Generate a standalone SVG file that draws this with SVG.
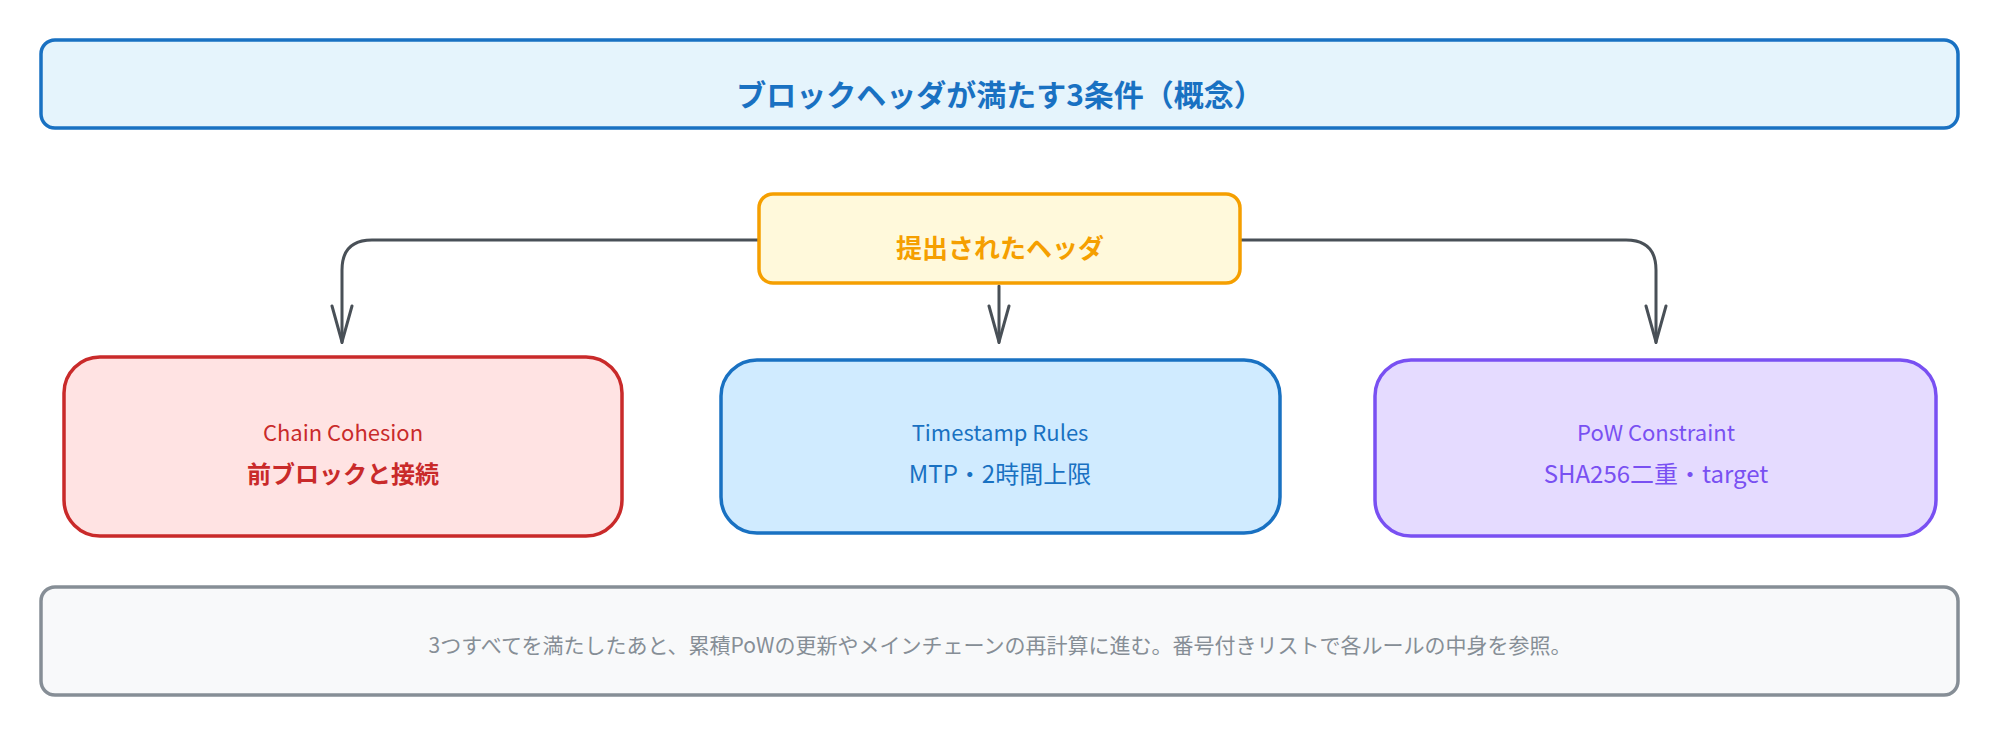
<svg xmlns="http://www.w3.org/2000/svg" width="2000" height="736" viewBox="0 0 2000 736">
<style>
text{font-family:"Noto Sans CJK JP","Noto Sans",sans-serif;text-anchor:middle;dominant-baseline:central}
.b{stroke-width:3.5}
.c{fill:none;stroke:#495057;stroke-width:3;stroke-linecap:round;stroke-linejoin:round}
</style>
<defs><marker id="ah" viewBox="0 0 40 24" refX="38" refY="12" markerWidth="40" markerHeight="24" markerUnits="userSpaceOnUse" orient="auto"><path d="M2 2 L38 12 L2 22" fill="none" stroke="#495057" stroke-width="3" stroke-linecap="round"/></marker></defs>
<g id="title"><rect class="b" x="41" y="40" width="1917" height="88" rx="14" fill="#e5f4fc" stroke="#1971c2"/><text x="1000" y="93" font-size="30" font-weight="bold" fill="#1971c2">ブロックヘッダが満たす3条件（概念）</text></g>
<g id="connectors">
<path class="c" d="M759 240 H372 Q342 240 342 270 V342" marker-end="url(#ah)"/>
<path class="c" d="M999 286 V342" marker-end="url(#ah)"/>
<path class="c" d="M1240 240 H1626 Q1656 240 1656 270 V342" marker-end="url(#ah)"/>
</g>
<g id="header"><rect class="b" x="759" y="194" width="481" height="89" rx="14" fill="#fff9db" stroke="#f59f00"/><text x="1000" y="246" font-size="26" font-weight="bold" fill="#f59f00">提出されたヘッダ</text></g>
<g id="chain"><rect class="b" x="64" y="357" width="558" height="179" rx="36" fill="#ffe3e3" stroke="#c92a2a"/><text x="343" y="431" font-size="22" fill="#c92a2a">Chain Cohesion</text><text x="343" y="472" font-size="24" font-weight="bold" fill="#c92a2a">前ブロックと接続</text></g>
<g id="timestamp"><rect class="b" x="721" y="360" width="559" height="173" rx="36" fill="#d0ebff" stroke="#1971c2"/><text x="1000" y="431" font-size="22" fill="#1971c2">Timestamp Rules</text><text x="1000" y="472" font-size="24" fill="#1971c2">MTP・2時間上限</text></g>
<g id="pow"><rect class="b" x="1375" y="360" width="561" height="176" rx="36" fill="#e5dbff" stroke="#7950f2"/><text x="1656" y="431" font-size="22" fill="#7950f2">PoW Constraint</text><text x="1656" y="472" font-size="24" fill="#7950f2">SHA256二重・target</text></g>
<g id="note"><rect class="b" x="41" y="587" width="1917" height="108" rx="14" fill="#f8f9fa" stroke="#868e96"/><text x="1000" y="644" font-size="21" fill="#868e96">3つすべてを満たしたあと、累積PoWの更新やメインチェーンの再計算に進む。番号付きリストで各ルールの中身を参照。</text></g>
</svg>
